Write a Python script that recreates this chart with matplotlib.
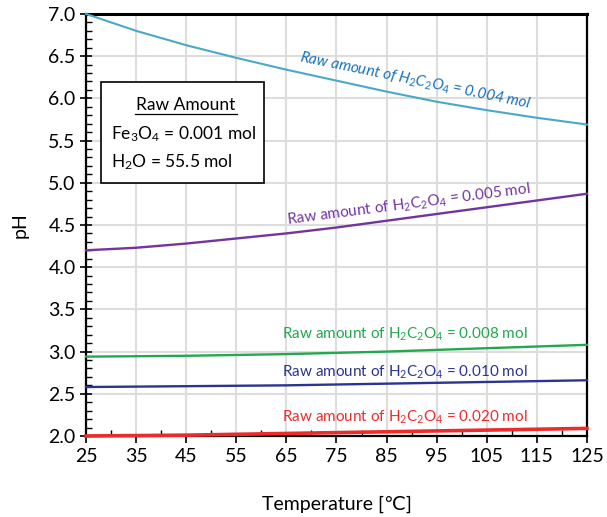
import numpy as np
import matplotlib
matplotlib.use("Agg")
import matplotlib.pyplot as plt
from matplotlib.ticker import MultipleLocator

plt.rcParams['font.family'] = ['Lato', 'DejaVu Sans']
plt.rcParams['mathtext.fontset'] = 'custom'
plt.rcParams['mathtext.rm'] = 'Lato'
plt.rcParams['mathtext.it'] = 'Lato:italic'
plt.rcParams['mathtext.default'] = 'regular'

# Temperature grid (deg C)
temps = [25, 35, 45, 55, 65, 75, 85, 95, 105, 115, 125]

# pH for each raw amount of H2C2O4
ph_0004 = [7.00, 6.80, 6.63, 6.48, 6.34, 6.21, 6.08, 5.96, 5.86, 5.77, 5.69]
ph_0005 = [4.20, 4.23, 4.28, 4.34, 4.40, 4.47, 4.55, 4.63, 4.71, 4.79, 4.87]
ph_0008 = [2.94, 2.945, 2.95, 2.96, 2.97, 2.985, 3.00, 3.02, 3.04, 3.06, 3.08]
ph_0010 = [2.58, 2.585, 2.59, 2.595, 2.60, 2.61, 2.62, 2.63, 2.64, 2.65, 2.66]
ph_0020 = [2.00, 2.005, 2.01, 2.02, 2.03, 2.04, 2.05, 2.06, 2.07, 2.08, 2.09]

amounts = ["0.004", "0.005", "0.008", "0.010", "0.020"]

fig = plt.figure(figsize=(6.07, 5.17), dpi=100)
ax = fig.add_axes([0.1417, 0.1567, 0.8253, 0.8163])

series = [
    (ph_0004, "#4aa8c8", 1.5, "#1a72bb", 90.7, 6.21, -11.5, True),
    (ph_0005, "#7434a0", 1.7, "#7434a0", 89.5, 4.74, 7.3, False),
    (ph_0008, "#22a84f", 1.7, "#22a84f", 88.7, 3.20, 0, False),
    (ph_0010, "#2b3490", 1.7, "#2b3490", 88.7, 2.76, 0, False),
    (ph_0020, "#ee2b2b", 2.6, "#ee2b2b", 88.7, 2.225, 0, False),
]

for (vals, lc, lw, tc, tx, ty, rot, ital), amt in zip(series, amounts):
    ax.plot(temps, vals, color=lc, lw=lw, zorder=3, clip_on=False)
    if ital:
        chem = r"$\mathit{H_2C_2O_4}$"
    else:
        chem = r"H$_2$C$_2$O$_4$"
    ax.text(tx, ty, f"Raw amount of {chem} = {amt} mol", color=tc,
            fontsize=11, ha="center", va="center", rotation=rot,
            rotation_mode="anchor", style="italic" if ital else "normal")

ax.set_xlim(25, 125)
ax.set_ylim(2.0, 7.0)
ax.xaxis.set_major_locator(MultipleLocator(10))
ax.xaxis.set_minor_locator(MultipleLocator(5))
ax.yaxis.set_major_locator(MultipleLocator(0.5))
ax.yaxis.set_minor_locator(MultipleLocator(0.1))
ax.set_xticks(np.arange(25, 126, 10))
ax.yaxis.set_major_formatter(matplotlib.ticker.FormatStrFormatter("%.1f"))
ax.tick_params(axis="both", which="major", labelsize=14, length=5, width=1.2,
               color="black", direction="out")
ax.tick_params(axis="y", which="major", direction="inout", length=8)
ax.tick_params(axis="both", which="minor", length=4, width=1, direction="in")
ax.grid(True, which="major", color="#dddddd", lw=1.5, zorder=0)

ax.spines["top"].set_linewidth(2.2)
ax.spines["left"].set_linewidth(1.6)
ax.spines["bottom"].set_linewidth(1.6)
ax.spines["right"].set_linewidth(1.6)

ax.set_xlabel("Temperature [℃]", fontsize=14, labelpad=22)
ax.set_ylabel("pH", fontsize=14, labelpad=14)

# condition box
box = plt.Rectangle((101 / 607, 1 - 183 / 517), 163 / 607, 101 / 517,
                    transform=fig.transFigure, fill=True, facecolor="white",
                    edgecolor="black", lw=1.2, zorder=4)
fig.add_artist(box)
fig.text(186 / 607, 1 - 105 / 517, "Raw Amount", ha="center", va="center",
         fontsize=12.5, zorder=5)
fig.add_artist(plt.Line2D([135 / 607, 237 / 607], [1 - 114 / 517, 1 - 114 / 517],
                          transform=fig.transFigure, color="black", lw=0.9, zorder=5))
fig.text(111 / 607, 1 - 134 / 517, r"Fe$_3$O$_4$ = 0.001 mol", ha="left",
         va="center", fontsize=12.5, zorder=5)
fig.text(111 / 607, 1 - 162 / 517, r"H$_2$O = 55.5 mol", ha="left",
         va="center", fontsize=12.5, zorder=5)

fig.savefig("out.png", dpi=100)
